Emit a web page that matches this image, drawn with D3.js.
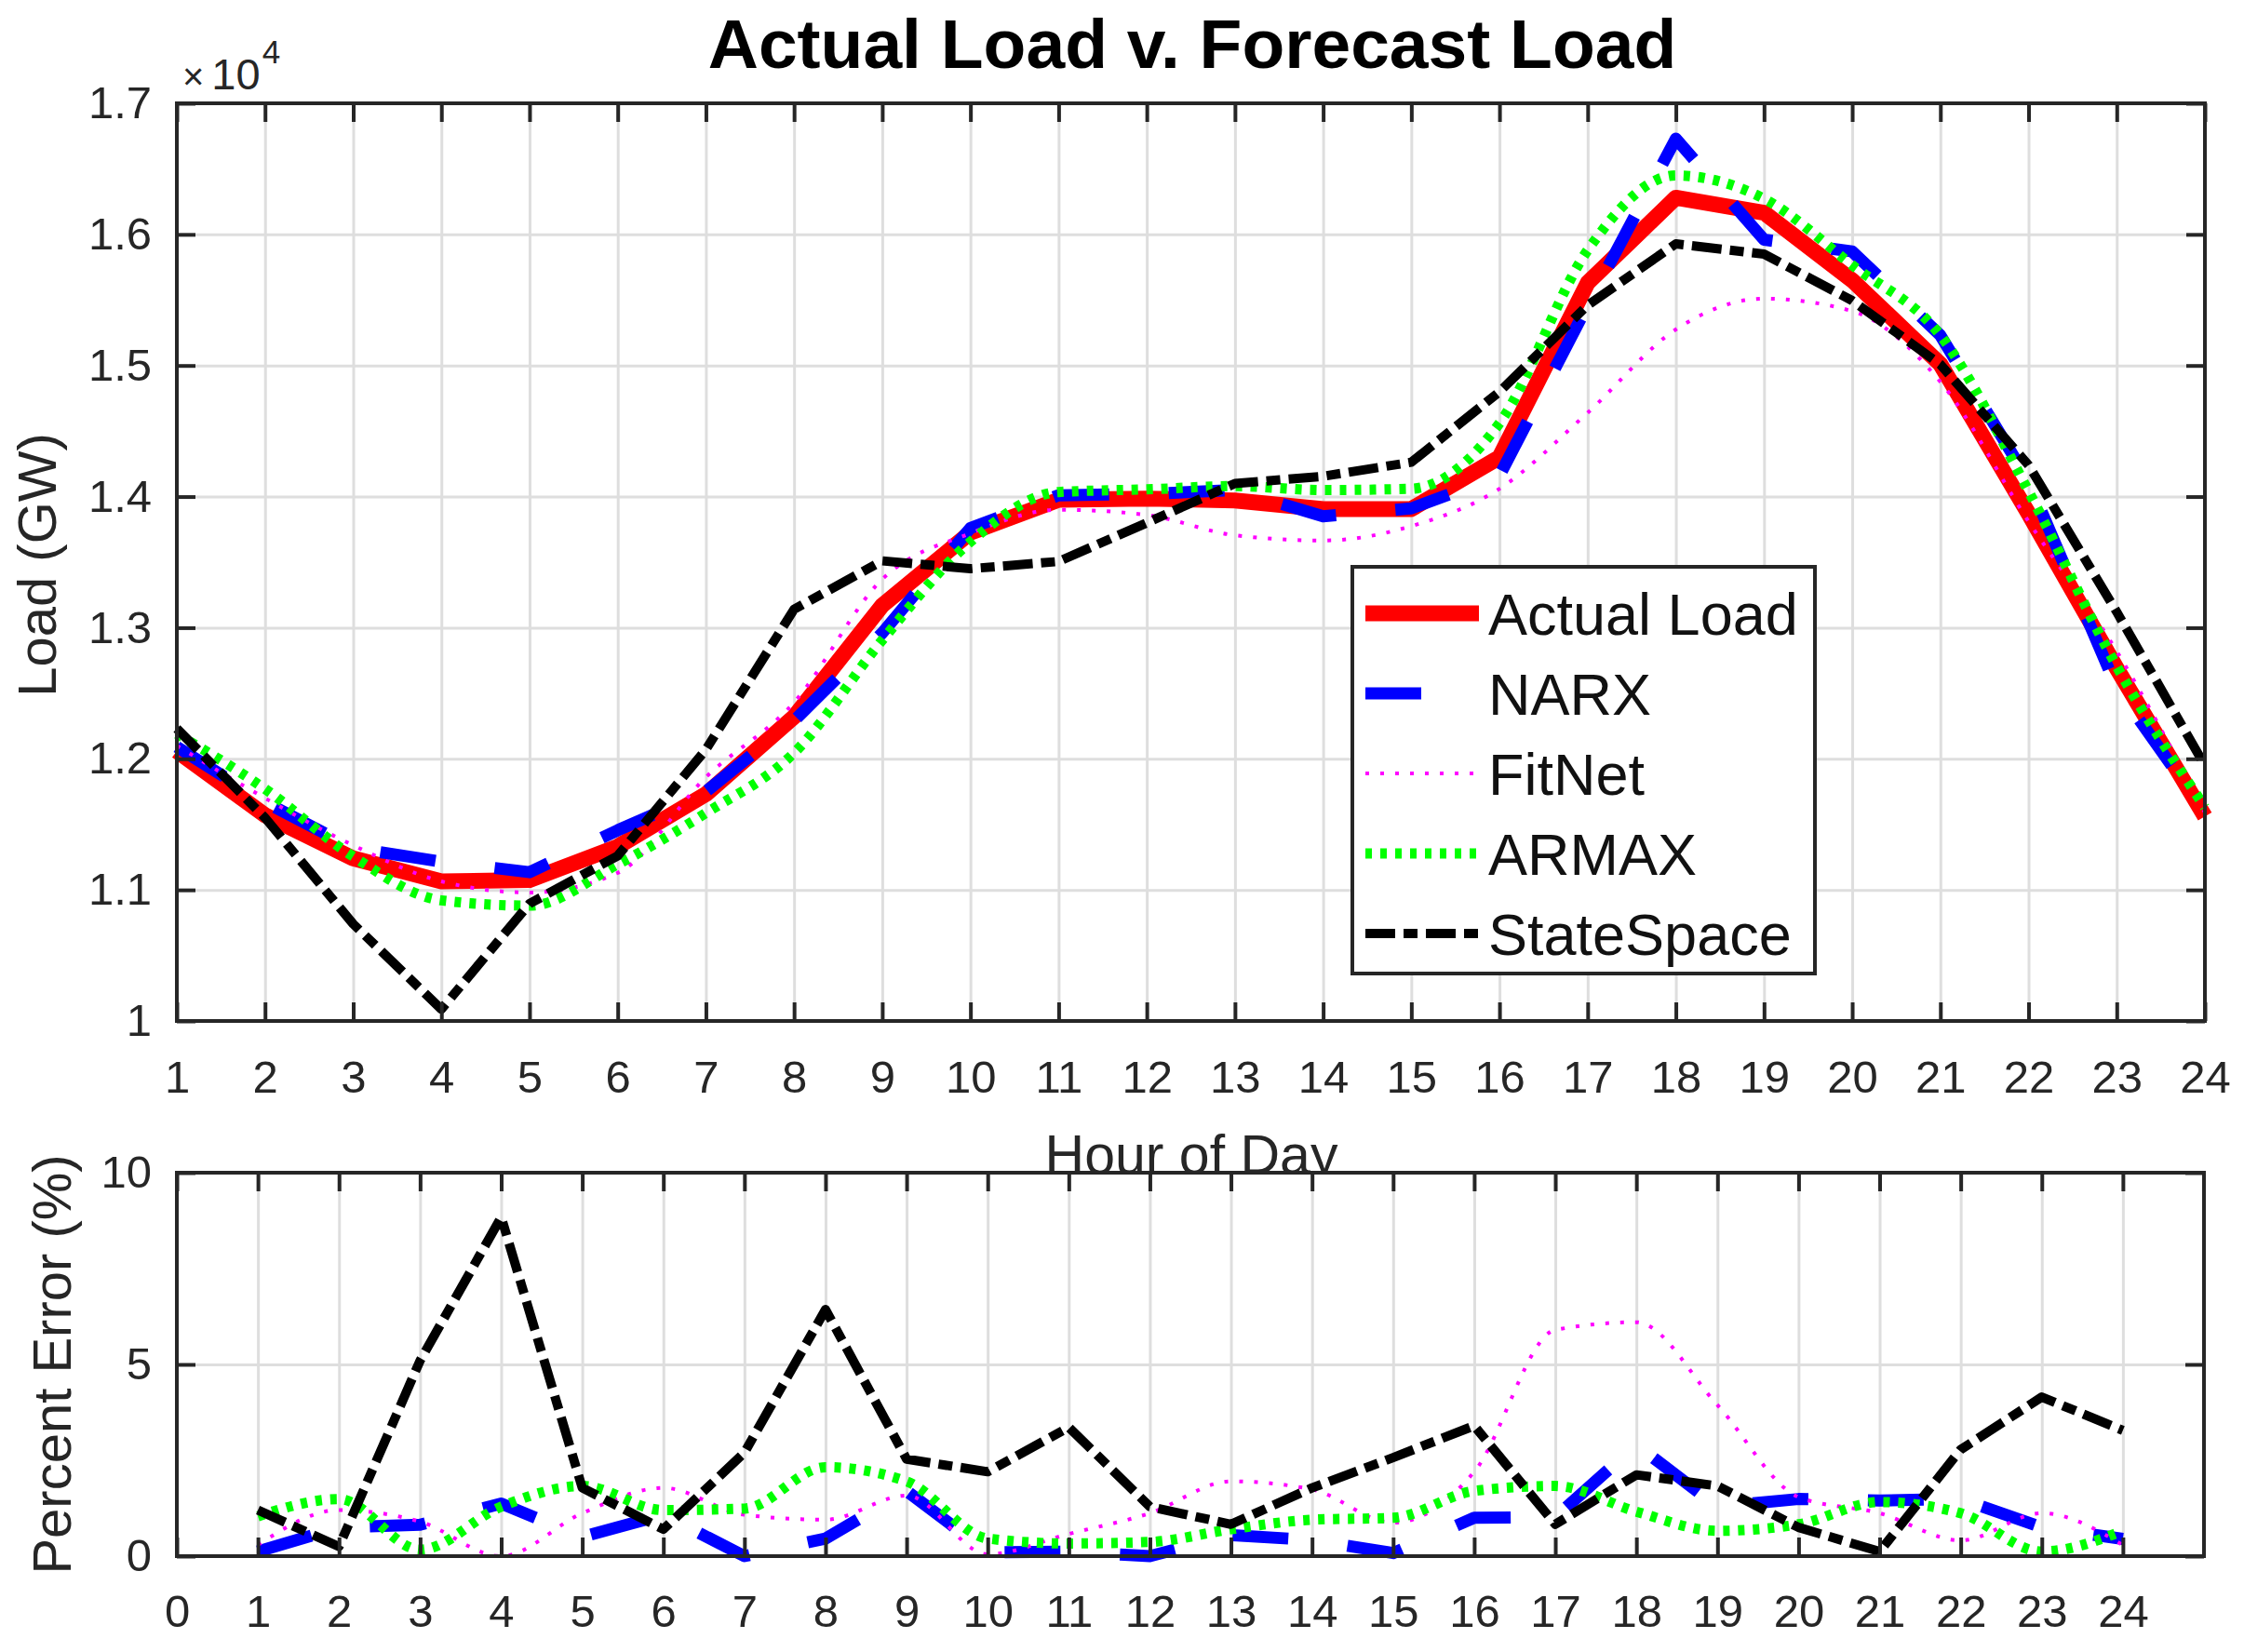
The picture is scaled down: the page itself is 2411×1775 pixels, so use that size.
<!DOCTYPE html>
<html>
<head>
<meta charset="utf-8">
<script src="https://cdn.jsdelivr.net/npm/d3@7"></script>
<style>
  body { margin: 0; background: #fff; }
  text { font-family: "Liberation Sans", Arial, Helvetica, sans-serif; }
</style>
</head>
<body>
<script>
// ---- data ----
const hours = [1, 2, 3, 4, 5, 6, 7, 8, 9, 10, 11, 12, 13, 14, 15, 16, 17, 18, 19, 20, 21, 22, 23, 24];

const actualLoad = [12060, 11570, 11240, 11065, 11075, 11330, 11730, 12320, 13170, 13725, 13975, 13985,
                    13970, 13905, 13905, 14300, 15630, 16280, 16165, 15650, 15010, 13870, 12690, 11560];
const narxLoad   = [12090, 11670, 11320, 11215, 11135, 11455, 11750, 12290, 12960, 13760, 14010, 14020,
                    14050, 13850, 13910, 14160, 15460, 16730, 15960, 15870, 15230, 14120, 12540, 11590];
const fitnetLoad = [12100, 11700, 11340, 11065, 10980, 11130, 11860, 12430, 13370, 13720, 13900, 13860,
                    13705, 13665, 13775, 14060, 14640, 15275, 15510, 15415, 14875, 13810, 12820, 11590];
const armaxLoad  = [12190, 11770, 11255, 10920, 10880, 11195, 11586, 12045, 12905, 13655, 14035, 14055,
                    14080, 14050, 14060, 14560, 15880, 16450, 16272, 15765, 15230, 14040, 12705, 11630];
const ssLoad     = [12230, 11550, 10740, 10090, 10895, 11260, 12070, 13140, 13510, 13450, 13505, 13800,
                    14100, 14155, 14262, 14800, 15460, 15928, 15850, 15495, 15008, 14240, 13120, 11948];

const narxErr   = [0.12, 0.75, 0.82, 1.37, 0.5, 1.08, 0.0, 0.46, 1.7, 0.1, 0.12, 0.0,
                   0.55, 0.42, 0.08, 1.0, 1.02, 2.9, 1.29, 1.49, 1.45, 1.49, 0.75, 0.45];
const fitnetErr = [0.29, 1.2, 0.9, 0.0, 1.12, 1.78, 1.08, 0.95, 1.58, 0.05, 0.58, 1.12,
                   1.95, 1.74, 0.87, 2.2, 5.9, 6.1, 3.94, 1.54, 1.12, 0.41, 1.12, 0.29];
const armaxErr  = [1.04, 1.49, 0.17, 1.29, 1.83, 1.2, 1.24, 2.32, 1.95, 0.46, 0.33, 0.37,
                   0.7, 0.95, 1.0, 1.7, 1.83, 1.16, 0.66, 0.83, 1.41, 1.12, 0.12, 0.66];
const ssErr     = [1.2, 0.25, 5.1, 8.84, 1.78, 0.7, 2.7, 6.43, 2.53, 2.2, 3.36, 1.29,
                   0.83, 1.78, 2.57, 3.4, 0.83, 2.12, 1.83, 0.75, 0.12, 2.78, 4.15, 3.28];

const topXTicks = hours;
const topYTicks = [10000, 11000, 12000, 13000, 14000, 15000, 16000, 17000];
const topYLabels = ['1', '1.1', '1.2', '1.3', '1.4', '1.5', '1.6', '1.7'];
const botXTicks = [0, 1, 2, 3, 4, 5, 6, 7, 8, 9, 10, 11, 12, 13, 14, 15, 16, 17, 18, 19, 20, 21, 22, 23, 24];
const botYTicks = [0, 5, 10];

const seriesNames = ['Actual Load', 'NARX', 'FitNet', 'ARMAX', 'StateSpace'];

// ---- styles ----
const styles = {
  'Actual Load': { color: '#ff0000', width: 17, dash: null, smooth: false },
  'NARX':        { color: '#0000ff', width: 13, dash: '60,64', smooth: false },
  'FitNet':      { color: '#ff00ff', width: 4,  dash: '4,12', smooth: true },
  'ARMAX':       { color: '#00ff00', width: 11, dash: '7,9', smooth: true },
  'StateSpace':  { color: '#000000', width: 10, dash: '32,9,15,9', smooth: false }
};

const W = 2411, H = 1775;
const axisColor = '#262626';
const gridColor = '#dedede';
const tickFont = 49;

const svg = d3.select('body').append('svg')
  .attr('width', W).attr('height', H)
  .attr('viewBox', `0 0 ${W} ${H}`);

// scales
const xTop = d3.scaleLinear().domain([1, 24]).range([190, 2369]);
const yTop = d3.scaleLinear().domain([10000, 17000]).range([1097, 111]);
const xBot = d3.scaleLinear().domain([0, 25]).range([190, 2368]);
const yBot = d3.scaleLinear().domain([0, 10]).range([1672, 1260]);

function drawGrid(g, x, y, xt, yt) {
  const [xa, xb] = x.range();
  const [ya, yb] = y.range();
  g.append('g')
    .attr('transform', `translate(0,${ya})`)
    .call(d3.axisBottom(x).tickValues(xt).tickSize(-(ya - yb)).tickFormat(''))
    .call(a => a.select('.domain').remove())
    .selectAll('line').attr('stroke', gridColor).attr('stroke-width', 3);
  g.append('g')
    .attr('transform', `translate(${xa},0)`)
    .call(d3.axisLeft(y).tickValues(yt).tickSize(-(xb - xa)).tickFormat(''))
    .call(a => a.select('.domain').remove())
    .selectAll('line').attr('stroke', gridColor).attr('stroke-width', 3);
}

function drawFrame(g, x, y, xt, yt, yLabelFmt, xPad) {
  const [xa, xb] = x.range();
  const [ya, yb] = y.range();
  const tl = 20;
  const styleAxis = a => {
    a.select('.domain').remove();
    a.selectAll('line').attr('stroke', axisColor).attr('stroke-width', 4);
    a.selectAll('text').attr('fill', axisColor).attr('font-size', tickFont);
  };
  g.append('g').attr('transform', `translate(0,${ya})`)
    .call(d3.axisBottom(x).tickValues(xt).tickSize(-tl).tickPadding(xPad).tickFormat(d3.format('d')))
    .call(styleAxis);
  g.append('g').attr('transform', `translate(0,${yb})`)
    .call(d3.axisTop(x).tickValues(xt).tickSize(-tl).tickFormat(''))
    .call(styleAxis);
  g.append('g').attr('transform', `translate(${xa},0)`)
    .call(d3.axisLeft(y).tickValues(yt).tickSize(-tl).tickPadding(27).tickFormat(yLabelFmt))
    .call(styleAxis);
  g.append('g').attr('transform', `translate(${xb},0)`)
    .call(d3.axisRight(y).tickValues(yt).tickSize(-tl).tickFormat(''))
    .call(styleAxis);
  g.append('rect')
    .attr('x', xa).attr('y', yb).attr('width', xb - xa).attr('height', ya - yb)
    .attr('fill', 'none').attr('stroke', axisColor).attr('stroke-width', 4);
}

function drawSeries(g, x, y, name, values) {
  const st = styles[name];
  const line = d3.line()
    .x((d, i) => x(hours[i]))
    .y(d => y(d))
    .curve(st.smooth ? d3.curveMonotoneX : d3.curveLinear);
  g.append('path')
    .datum(values)
    .attr('d', line)
    .attr('fill', 'none')
    .attr('stroke', st.color)
    .attr('stroke-width', st.width)
    .attr('stroke-dasharray', st.dash)
    .attr('stroke-linejoin', 'round');
}

// ---- top axes ----
const topAx = svg.append('g');
topAx.append('rect').attr('x', 190).attr('y', 111).attr('width', 2179).attr('height', 986).attr('fill', '#fff');
drawGrid(topAx, xTop, yTop, topXTicks, topYTicks);
const topData = [actualLoad, narxLoad, fitnetLoad, armaxLoad, ssLoad];
seriesNames.forEach((n, i) => drawSeries(topAx, xTop, yTop, n, topData[i]));
drawFrame(topAx, xTop, yTop, topXTicks, topYTicks, d => topYLabels[topYTicks.indexOf(d)], 42);

// exponent label
const expo = topAx.append('text').attr('x', 196).attr('y', 96).attr('fill', axisColor).attr('font-size', 47);
expo.append('tspan').text('\u00d7').attr('font-size', 40);
expo.append('tspan').text('10').attr('dx', 8);
expo.append('tspan').text('4').attr('font-size', 35).attr('dy', -28).attr('dx', 2);

// title
svg.append('text')
  .attr('x', 1281).attr('y', 73)
  .attr('text-anchor', 'middle')
  .attr('font-size', 75).attr('font-weight', 'bold').attr('fill', '#000')
  .text('Actual Load v. Forecast Load');

// axis labels
svg.append('text')
  .attr('transform', 'translate(60,607) rotate(-90)')
  .attr('text-anchor', 'middle').attr('font-size', 58).attr('fill', axisColor)
  .text('Load (GW)');
svg.append('text')
  .attr('x', 1280).attr('y', 1261)
  .attr('text-anchor', 'middle').attr('font-size', 59).attr('fill', axisColor)
  .text('Hour of Day');

// legend
const lg = topAx.append('g');
lg.append('rect')
  .attr('x', 1453).attr('y', 609).attr('width', 497).attr('height', 437)
  .attr('fill', '#fff').attr('stroke', axisColor).attr('stroke-width', 4);
seriesNames.forEach((n, i) => {
  const st = styles[n];
  const cy = 659 + i * 86;
  lg.append('line')
    .attr('x1', 1467).attr('x2', 1589).attr('y1', cy).attr('y2', cy)
    .attr('stroke', st.color).attr('stroke-width', st.width)
    .attr('stroke-dasharray', st.dash);
  lg.append('text')
    .attr('x', 1599).attr('y', cy + 23)
    .attr('font-size', 63).attr('fill', '#111')
    .text(n);
});

// ---- bottom axes ----
const botAx = svg.append('g');
botAx.append('rect').attr('x', 190).attr('y', 1260).attr('width', 2178).attr('height', 412).attr('fill', '#fff');
drawGrid(botAx, xBot, yBot, botXTicks, botYTicks);
const botData = [narxErr, fitnetErr, armaxErr, ssErr];
seriesNames.slice(1).forEach((n, i) => drawSeries(botAx, xBot, yBot, n, botData[i]));
drawFrame(botAx, xBot, yBot, botXTicks, botYTicks, d3.format('d'), 41);

svg.append('text')
  .attr('transform', 'translate(76,1466) rotate(-90)')
  .attr('text-anchor', 'middle').attr('font-size', 58).attr('fill', axisColor)
  .text('Percent Error (%)');
</script>
</body>
</html>
